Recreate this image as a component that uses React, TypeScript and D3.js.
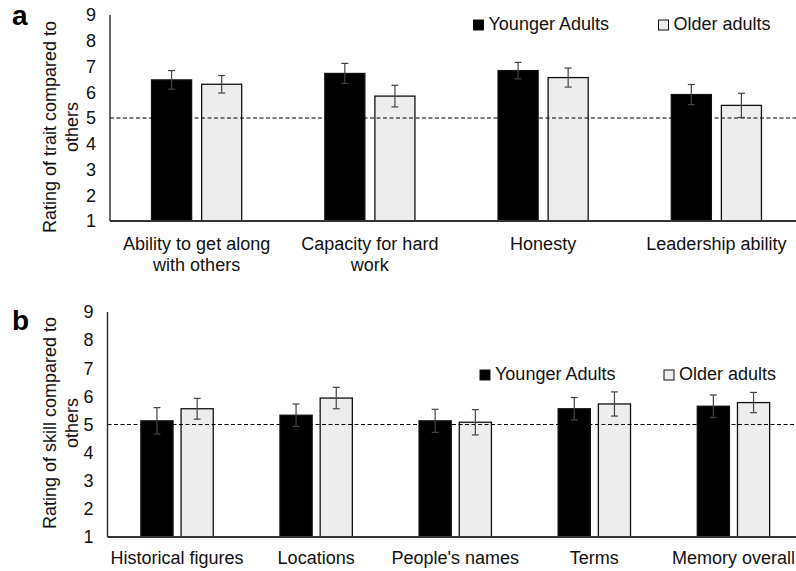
import React, { useEffect, useRef } from 'react';
import * as d3 from 'd3';

// panel a: traits
const traitCategories = ['Ability to get along\nwith others', 'Capacity for hard\nwork', 'Honesty', 'Leadership ability'];
const traitYounger = [6.48, 6.73, 6.84, 5.91];
const traitYoungerErr = [0.36, 0.39, 0.32, 0.39];
const traitOlder = [6.31, 5.85, 6.57, 5.49];
const traitOlderErr = [0.34, 0.42, 0.37, 0.47];

// panel b: skills
const skillCategories = ['Historical figures', 'Locations', "People's names", 'Terms', 'Memory overall'];
const skillYounger = [5.13, 5.33, 5.13, 5.56, 5.65];
const skillYoungerErr = [0.47, 0.4, 0.41, 0.4, 0.4];
const skillOlder = [5.56, 5.94, 5.08, 5.73, 5.78];
const skillOlderErr = [0.37, 0.38, 0.45, 0.43, 0.36];

const seriesNames = ['Younger Adults', 'Older adults'];
const seriesFill = ['#000000', '#ededed'];
const yTicks = [1, 2, 3, 4, 5, 6, 7, 8, 9];
const refValue = 5;

const FONT = '"Liberation Sans", Arial, Helvetica, sans-serif';

type Panel = {
    letter: string,
    letterY: number,
    title: string[],
    titleCy: number,
    categories: string[],
    values: number[][],
    errors: number[][],
    axisX: number,
    yTop: number,
    yBottom: number,
    labelY: number,
    legendY: number,
    legendX: number[],
}

const panels: Panel[] = [
    {
        letter: 'a', letterY: 25,
        title: ['Rating of trait compared to', 'others'], titleCy: 127,
        categories: traitCategories,
        values: [traitYounger, traitOlder],
        errors: [traitYoungerErr, traitOlderErr],
        axisX: 110, yTop: 15, yBottom: 221, labelY: 250,
        legendY: 30, legendX: [473.5, 658.5],
    },
    {
        letter: 'b', letterY: 330,
        title: ['Rating of skill compared to', 'others'], titleCy: 423,
        categories: skillCategories,
        values: [skillYounger, skillOlder],
        errors: [skillYoungerErr, skillOlderErr],
        axisX: 107.5, yTop: 312, yBottom: 537, labelY: 564,
        legendY: 380, legendX: [480, 664],
    },
];

const drawPanel = (svg: any, p: Panel) => {
    const x0 = d3.scaleBand()
        .domain(p.categories)
        .range([p.axisX, 803])
        .padding(0);
    const x1 = d3.scaleBand()
        .domain(seriesNames)
        .range([0, x0.bandwidth()])
        .paddingInner(0.2)
        .paddingOuter(0.83);
    const y = d3.scaleLinear().domain([1, 9]).range([p.yBottom, p.yTop]);

    const g = svg.append('g');

    // panel letter
    g.append('text')
        .attr('x', 12).attr('y', p.letterY)
        .attr('font-size', 28).attr('font-weight', 'bold')
        .attr('font-family', FONT)
        .text(p.letter);

    // y axis title (two lines)
    const title = g.append('text')
        .attr('transform', `translate(0,${p.titleCy}) rotate(-90)`)
        .attr('text-anchor', 'middle')
        .attr('font-size', 18).attr('font-family', FONT).attr('fill', '#111');
    p.title.forEach((t, i) => {
        title.append('tspan').attr('x', 0).attr('y', 56 + i * 22).text(t);
    });

    // y tick labels
    g.append('g')
        .attr('transform', `translate(${p.axisX},0)`)
        .call(d3.axisLeft(y).tickValues(yTicks).tickSize(0).tickPadding(14).tickFormat(d3.format('d')))
        .call((a: any) => a.select('.domain').remove())
        .call((a: any) => a.selectAll('text')
            .attr('font-size', 18).attr('font-family', FONT).attr('fill', '#111'));

    // bars
    p.values.forEach((vals, si) => {
        g.append('g').selectAll('rect')
            .data(vals)
            .join('rect')
            .attr('x', (d: number, i: number) => x0(p.categories[i])! + x1(seriesNames[si])!)
            .attr('y', (d: number) => y(d))
            .attr('width', x1.bandwidth())
            .attr('height', (d: number) => y(1) - y(d))
            .attr('fill', seriesFill[si])
            .attr('stroke', '#111')
            .attr('stroke-width', 1.3);
    });

    // reference line at 5
    g.append('line')
        .attr('x1', p.axisX).attr('x2', 796)
        .attr('y1', y(refValue)).attr('y2', y(refValue))
        .attr('stroke', '#000').attr('stroke-width', 1.1)
        .attr('stroke-dasharray', '4,2.5');

    // error bars
    p.values.forEach((vals, si) => {
        vals.forEach((v, i) => {
            const cx = x0(p.categories[i])! + x1(seriesNames[si])! + x1.bandwidth() / 2;
            const e = p.errors[si][i];
            const eg = g.append('g').attr('stroke', '#444').attr('stroke-width', 1.2);
            eg.append('line').attr('x1', cx).attr('x2', cx).attr('y1', y(v + e)).attr('y2', y(v - e));
            eg.append('line').attr('x1', cx - 3.5).attr('x2', cx + 3.5).attr('y1', y(v + e)).attr('y2', y(v + e));
            eg.append('line').attr('x1', cx - 3.5).attr('x2', cx + 3.5).attr('y1', y(v - e)).attr('y2', y(v - e));
        });
    });

    // axis lines
    g.append('line')
        .attr('x1', p.axisX).attr('x2', p.axisX)
        .attr('y1', y(9)).attr('y2', y(1))
        .attr('stroke', '#333').attr('stroke-width', 1.5);
    g.append('line')
        .attr('x1', p.axisX).attr('x2', 796)
        .attr('y1', y(1)).attr('y2', y(1))
        .attr('stroke', '#333').attr('stroke-width', 1.8);

    // category labels
    p.categories.forEach(c => {
        const t = g.append('text')
            .attr('text-anchor', 'middle')
            .attr('font-size', 18).attr('font-family', FONT).attr('fill', '#111');
        c.split('\n').forEach((line, li) => {
            t.append('tspan')
                .attr('x', x0(c)! + x0.bandwidth() / 2)
                .attr('y', p.labelY + li * 21)
                .text(line);
        });
    });

    // legend
    seriesNames.forEach((s, si) => {
        const lx = p.legendX[si];
        g.append('rect')
            .attr('x', lx).attr('y', p.legendY - 10)
            .attr('width', 10).attr('height', 10)
            .attr('fill', seriesFill[si])
            .attr('stroke', '#111').attr('stroke-width', 1);
        g.append('text')
            .attr('x', lx + 15).attr('y', p.legendY)
            .attr('font-size', 18).attr('font-family', FONT).attr('fill', '#111')
            .text(s);
    });
};

export default function App() {
    const ref = useRef<SVGSVGElement>(null);

    useEffect(() => {
        const svg = d3.select(ref.current);
        svg.selectAll('*').remove();
        svg.append('rect').attr('width', 796).attr('height', 571).attr('fill', '#fff');
        panels.forEach(p => drawPanel(svg, p));
    }, []);

    return (
        <svg ref={ref} width={796} height={571}
            style={{ position: 'absolute', left: 0, top: 0, display: 'block' }} />
    );
}
